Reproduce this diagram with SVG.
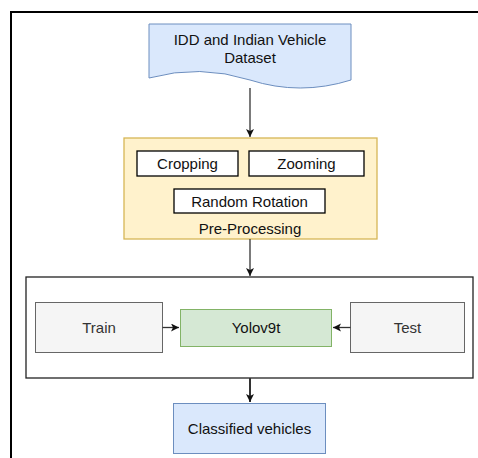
<svg xmlns="http://www.w3.org/2000/svg" width="478" height="458" viewBox="0 0 478 458">
<style>
text{font-family:"Liberation Sans",Arial,sans-serif;font-size:15px;fill:#111;text-anchor:middle;dominant-baseline:central}
.w{fill:#fff;stroke:#000;stroke-width:1.3}
.grey{fill:#f5f5f5;stroke:#666;stroke-width:1}
.gt{fill:#333}
.edge{stroke:#333;fill:none}
</style>
<defs>
<marker id="ah" markerWidth="10" markerHeight="10" refX="8" refY="4" orient="auto" markerUnits="userSpaceOnUse">
<path d="M0,0 L8,4 L0,8 L2,4 Z" fill="#111"/>
</marker>
</defs>
<rect width="478" height="458" fill="#fff"/>
<g id="frame">
<path d="M11,458 V12 H478" fill="none" stroke="#000" stroke-width="2"/>
</g>
<g id="dataset">
<path d="M149,24 H351 V80 Q300,96 250,80 Q200,64 149,78 Z" fill="#dae8fc" stroke="#6c8ebf" stroke-width="1"/>
<text x="250" y="39">IDD and Indian Vehicle</text>
<text x="250" y="57">Dataset</text>
</g>
<g id="preprocessing">
<rect x="124" y="138" width="253" height="101" fill="#fff2cc" stroke="#d6b656" stroke-width="1.3"/>
<text x="250" y="228">Pre-Processing</text>
</g>
<g id="cropping">
<rect class="w" x="137" y="151" width="101" height="25"/>
<text x="187.5" y="163.5">Cropping</text>
</g>
<g id="zooming">
<rect class="w" x="249" y="151" width="115" height="25"/>
<text x="306.5" y="163.5">Zooming</text>
</g>
<g id="rotation">
<rect class="w" x="174" y="189" width="151" height="24"/>
<text x="249.5" y="201">Random Rotation</text>
</g>
<g id="model-container">
<rect x="26" y="277" width="447" height="101" fill="#fff" stroke="#222" stroke-width="1.3"/>
</g>
<g id="train">
<rect class="grey" x="35.5" y="302.5" width="127" height="50"/>
<text class="gt" x="99" y="327">Train</text>
</g>
<g id="yolo">
<rect x="180.5" y="309.5" width="151" height="37" fill="#d5e8d4" stroke="#82b366" stroke-width="1"/>
<text x="256" y="327">Yolov9t</text>
</g>
<g id="test">
<rect class="grey" x="350.5" y="302.5" width="114" height="50"/>
<text class="gt" x="407.5" y="327">Test</text>
</g>
<g id="classified">
<rect x="173.5" y="403.5" width="152" height="50" fill="#dae8fc" stroke="#6c8ebf" stroke-width="1"/>
<text x="249.5" y="428">Classified vehicles</text>
</g>
<g id="connectors">
<path class="edge" d="M250,88 V137" stroke-width="1.3" marker-end="url(#ah)"/>
<path class="edge" d="M250,239 V276" stroke-width="1.3" marker-end="url(#ah)"/>
<path class="edge" d="M162.5,327.5 H179" stroke-width="1.3" marker-end="url(#ah)"/>
<path class="edge" d="M350.5,327.5 H333" stroke-width="1.3" marker-end="url(#ah)"/>
<path class="edge" d="M250,378 V402" stroke-width="2" marker-end="url(#ah)"/>
</g>
</svg>
